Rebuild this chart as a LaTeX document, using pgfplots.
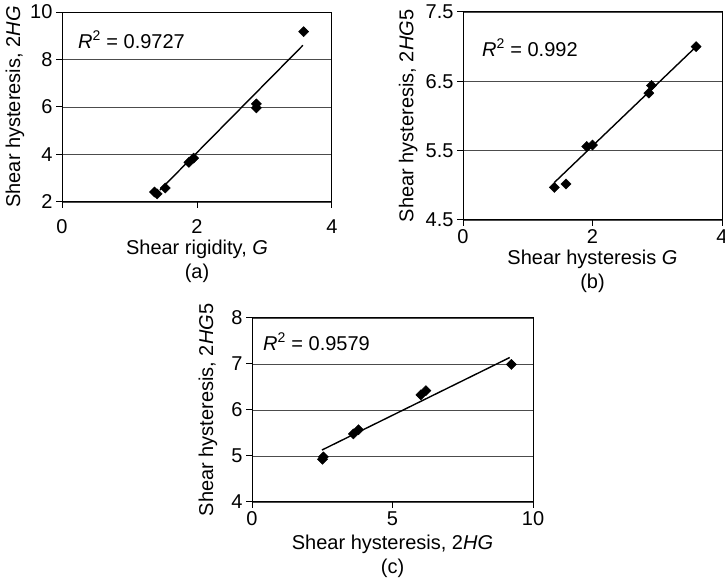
\documentclass[border=0pt]{standalone}
\usepackage{fontspec}
\setmainfont{Liberation Sans}
\usepackage{pgfplots}
\pgfplotsset{compat=1.18}
\pgfplotsset{
  myax/.style={
    scale only axis,
    font=\fontsize{20}{24}\selectfont,
    /pgf/number format/assume math mode=true,
    axis line style={black, line width=1pt},
    tick align=outside,
    xtick pos=bottom, ytick pos=left,
    major tick length=6pt,
    tick style={black, line width=1pt},
    ymajorgrids,
    grid style={black!70, line width=0.9pt},
    xlabel style={anchor=north, align=center},
    ylabel style={anchor=center},
  },
  pts/.style={only marks, mark=square*, mark size=3.6pt, mark options={rotate=45, fill=black, draw=black}},
  fit/.style={black, line width=1.4pt, no marks},
}
\begin{document}
\begin{tikzpicture}
\path[use as bounding box] (0,0) rectangle (725pt,583pt);
% (a)
\begin{axis}[myax,
  at={(62pt,381pt)}, anchor=south west,
  width=270pt, height=190pt,
  xmin=0, xmax=4, ymin=2, ymax=10,
  xtick={0,2,4}, ytick={2,4,6,8,10},
  xticklabel style={yshift=-8pt},
  xlabel={Shear rigidity, \textit{G}\\(a)},
  xlabel style={at={(axis description cs:0.5,-0.179)}},
  ylabel={Shear hysteresis, 2\textit{HG}},
  ylabel style={at={(axis description cs:-0.174,0.5)}},
]
\addplot[pts] coordinates {(1.37,2.42) (1.41,2.34) (1.53,2.59) (1.88,3.67) (1.95,3.85) (2.88,6.13) (2.88,5.96) (3.58,9.17)};
\addplot[fit] coordinates {(1.45,2.50) (3.57,8.60)};
\node[anchor=base west, inner sep=0pt] at (rel axis cs:0.059,0.81) {\textit{R}\textsuperscript{2} = 0.9727};
\end{axis}
% (b)
\begin{axis}[myax,
  at={(463pt,363pt)}, anchor=south west,
  width=259pt, height=208pt,
  xmin=0, xmax=4, ymin=4.5, ymax=7.5,
  xtick={0,2,4}, ytick={4.5,5.5,6.5,7.5},
  yticklabel style={/pgf/number format/.cd, fixed, fixed zerofill, precision=1},
  xlabel={Shear hysteresis \textit{G}\\(b)},
  xlabel style={at={(axis description cs:0.5,-0.125)}},
  ylabel={Shear hysteresis, 2\textit{HG}5},
  ylabel style={at={(axis description cs:-0.212,0.5)}},
]
\addplot[pts] coordinates {(1.41,4.97) (1.59,5.02) (1.91,5.56) (2.00,5.58) (2.87,6.33) (2.91,6.44) (3.60,7.0)};
\addplot[fit] coordinates {(1.41,5.04) (3.60,7.00)};
\node[anchor=base west, inner sep=0pt] at (rel axis cs:0.073,0.788) {\textit{R}\textsuperscript{2} = 0.992};
\end{axis}
% (c)
\begin{axis}[myax,
  at={(252pt,81pt)}, anchor=south west,
  width=281pt, height=184pt,
  xmin=0, xmax=10, ymin=4, ymax=8,
  xtick={0,5,10}, ytick={4,5,6,7,8},
  xlabel={Shear hysteresis, 2\textit{HG}\\(c)},
  xlabel style={at={(axis description cs:0.5,-0.158)}},
  ylabel={Shear hysteresis, 2\textit{HG}5},
  ylabel style={at={(axis description cs:-0.157,0.5)}},
]
\addplot[pts] coordinates {(2.51,4.93) (2.54,4.98) (3.61,5.48) (3.79,5.57) (6.01,6.33) (6.19,6.42) (9.23,6.99)};
\addplot[fit] coordinates {(2.49,5.13) (9.17,7.14)};
\node[anchor=base west, inner sep=0pt] at (rel axis cs:0.039,0.826) {\textit{R}\textsuperscript{2} = 0.9579};
\end{axis}
\end{tikzpicture}
\end{document}
